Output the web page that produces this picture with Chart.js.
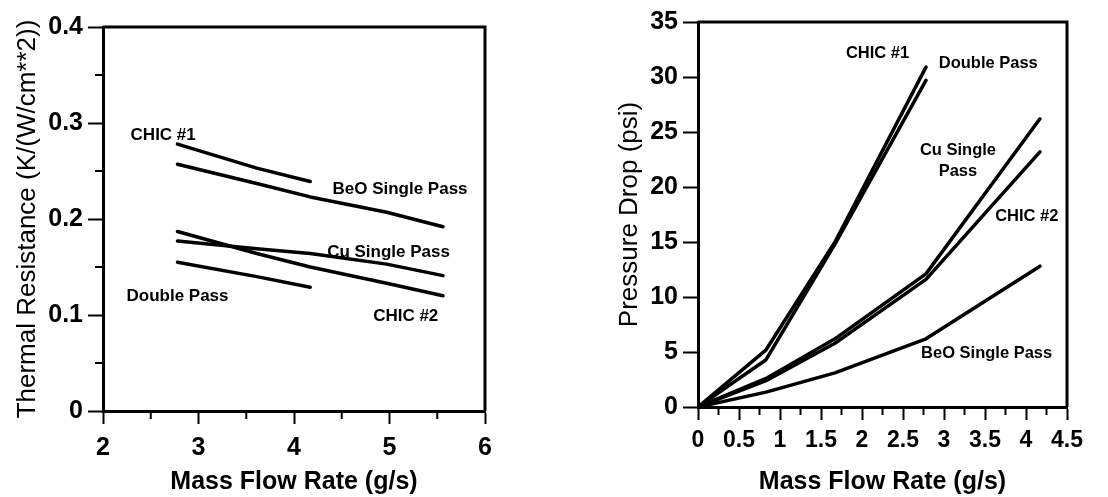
<!DOCTYPE html>
<html><head><meta charset="utf-8">
<script src="https://cdn.jsdelivr.net/npm/chart.js@4.4.1/dist/chart.umd.min.js"></script>
<style>
html,body{margin:0;padding:0;background:#fff;width:1108px;height:497px;overflow:hidden}
#c1{position:absolute;left:0;top:0}
#c2{position:absolute;left:560px;top:0}
</style></head><body>
<canvas id="c1" width="545" height="497"></canvas>
<canvas id="c2" width="548" height="497"></canvas>
<script>
// ---------- Left chart data (Thermal Resistance vs Mass Flow Rate) ----------
const leftX      = [2.78, 3.61, 4.17, 4.97, 5.56];
const leftChic1  = [0.278, 0.253, 0.239];
const leftBeO    = [0.257, 0.237, 0.223, 0.207, 0.192];
const leftCu     = [0.177, 0.169, 0.164, 0.153, 0.141];
const leftChic2  = [0.187, 0.164, 0.150, 0.133, 0.120];
const leftDouble = [0.155, 0.140, 0.129];
const leftXTicksMinor = [2.5, 3.5, 4.5, 5.5];
const leftYTicksMinor = [0.05, 0.15, 0.25, 0.35];
const leftLabelText = ['CHIC #1', 'BeO Single Pass', 'Cu Single Pass', 'CHIC #2', 'Double Pass'];
const leftLabelX    = [2.63, 5.11, 4.99, 5.17, 2.78];
const leftLabelY    = [0.287, 0.231, 0.165, 0.099, 0.119];

// ---------- Right chart data (Pressure Drop vs Mass Flow Rate) ----------
const rightX      = [0, 0.83, 1.67, 2.78, 4.17];
const rightChic1  = [0, 5.2, 15.0, 30.9];
const rightDouble = [0, 4.3, 14.8, 29.7];
const rightCu     = [0, 2.6, 6.2, 12.1, 26.2];
const rightChic2  = [0, 2.4, 5.8, 11.6, 23.2];
const rightBeO    = [0, 1.35, 3.1, 6.2, 12.8];
const rightXTicksMinor = [0.25, 0.75, 1.25, 1.75, 2.25, 2.75, 3.25, 3.75, 4.25];
const rightLabelText = ['CHIC #1', 'Double Pass', 'Cu Single', 'Pass', 'CHIC #2', 'BeO Single Pass'];
const rightLabelX    = [2.19, 3.54, 3.17, 3.17, 4.01, 3.52];
const rightLabelY    = [32.1, 31.2, 23.3, 21.4, 17.3, 4.9];

const FONT = "'Liberation Sans', Arial, Helvetica, sans-serif";

function pts(xs, ys) { return ys.map((y, i) => ({x: xs[i], y})); }
function ds(label, xs, ys) {
  return {label, data: pts(xs, ys), borderColor: '#000', borderWidth: 3.5,
    pointRadius: 0, tension: 0, fill: false, borderCapStyle: 'round', borderJoinStyle: 'round'};
}

const extras = {
  id: 'extras',
  afterDraw(chart, args, o) {
    const ctx = chart.ctx, ca = chart.chartArea, sx = chart.scales.x, sy = chart.scales.y;
    ctx.save();
    ctx.strokeStyle = '#000';
    ctx.lineWidth = 3;
    ctx.beginPath();
    ctx.moveTo(ca.left, ca.top); ctx.lineTo(ca.right, ca.top); ctx.lineTo(ca.right, ca.bottom);
    ctx.stroke();
    ctx.lineWidth = 2;
    (o.minorX || []).forEach(v => {
      const px = sx.getPixelForValue(v);
      ctx.beginPath(); ctx.moveTo(px, ca.bottom); ctx.lineTo(px, ca.bottom + 8); ctx.stroke();
    });
    (o.minorY || []).forEach(v => {
      const py = sy.getPixelForValue(v);
      ctx.beginPath(); ctx.moveTo(ca.left, py); ctx.lineTo(ca.left - 8, py); ctx.stroke();
    });
    ctx.fillStyle = '#000';
    ctx.font = 'bold ' + o.labelSize + 'px ' + FONT;
    ctx.textAlign = 'center';
    ctx.textBaseline = 'middle';
    o.text.forEach((t, i) => {
      ctx.fillText(t, sx.getPixelForValue(o.lx[i]), sy.getPixelForValue(o.ly[i]));
    });
    ctx.restore();
  }
};

function axisCommon(tickLen) {
  return {
    grid: {drawOnChartArea: false, drawTicks: true, tickLength: tickLen, tickWidth: 2, tickColor: '#000', color: '#000'},
    border: {display: true, color: '#000', width: 3}
  };
}

// ---------- Left chart ----------
new Chart(document.getElementById('c1'), {
  type: 'line',
  data: {datasets: [
    ds('CHIC #1', leftX, leftChic1),
    ds('BeO Single Pass', leftX, leftBeO),
    ds('Cu Single Pass', leftX, leftCu),
    ds('CHIC #2', leftX, leftChic2),
    ds('Double Pass', leftX, leftDouble)
  ]},
  options: {
    responsive: false, animation: false, devicePixelRatio: 1,
    layout: {padding: {left: 0, top: 27, right: 60, bottom: 0}},
    plugins: {legend: {display: false}, tooltip: {enabled: false},
      extras: {minorX: leftXTicksMinor, minorY: leftYTicksMinor, text: leftLabelText, lx: leftLabelX, ly: leftLabelY, labelSize: 17}},
    scales: {
      x: Object.assign(axisCommon(13), {
        type: 'linear', min: 2, max: 6,
        afterFit: s => { s.height = 86; },
        ticks: {stepSize: 1, color: '#000', font: {family: FONT, size: 25, weight: 'bold'}, padding: 9, maxRotation: 0, autoSkip: false,
          callback: v => String(v)},
        title: {display: true, text: 'Mass Flow Rate (g/s)', color: '#000', font: {family: FONT, size: 25, weight: 'bold'}, padding: {top: 0, bottom: 0}}
      }),
      y: Object.assign(axisCommon(15), {
        type: 'linear', min: 0, max: 0.4,
        afterFit: s => { s.width = 103; },
        ticks: {stepSize: 0.1, color: '#000', font: {family: FONT, size: 25, weight: 'bold'}, padding: 5,
          callback: v => v === 0 ? '0' : v.toFixed(1)},
        title: {display: true, text: 'Thermal Resistance (K/(W/cm**2))', color: '#000', font: {family: FONT, size: 26}, padding: {top: 12, bottom: 0}}
      })
    }
  },
  plugins: [extras]
});

// ---------- Right chart ----------
new Chart(document.getElementById('c2'), {
  type: 'line',
  data: {datasets: [
    ds('CHIC #1', rightX, rightChic1),
    ds('Double Pass', rightX, rightDouble),
    ds('Cu Single Pass', rightX, rightCu),
    ds('CHIC #2', rightX, rightChic2),
    ds('BeO Single Pass', rightX, rightBeO)
  ]},
  options: {
    responsive: false, animation: false, devicePixelRatio: 1,
    layout: {padding: {left: 0, top: 22, right: 41, bottom: 0}},
    plugins: {legend: {display: false}, tooltip: {enabled: false},
      extras: {minorX: rightXTicksMinor, minorY: [], text: rightLabelText, lx: rightLabelX, ly: rightLabelY, labelSize: 16.5}},
    scales: {
      x: Object.assign(axisCommon(13), {
        type: 'linear', min: 0, max: 4.5,
        afterFit: s => { s.height = 90; },
        ticks: {stepSize: 0.5, color: '#000', font: {family: FONT, size: 23, weight: 'bold'}, padding: 7, maxRotation: 0, autoSkip: false,
          callback: v => String(v)},
        title: {display: true, text: 'Mass Flow Rate (g/s)', color: '#000', font: {family: FONT, size: 25, weight: 'bold'}, padding: {top: 0, bottom: 0}}
      }),
      y: Object.assign(axisCommon(15), {
        type: 'linear', min: 0, max: 35,
        afterFit: s => { s.width = 138; },
        ticks: {stepSize: 5, color: '#000', font: {family: FONT, size: 25, weight: 'bold'}, padding: 5,
          callback: v => String(v)},
        title: {display: true, text: 'Pressure Drop (psi)', color: '#000', font: {family: FONT, size: 26}, padding: {top: 54, bottom: 0}}
      })
    }
  },
  plugins: [extras]
});
</script>
</body></html>
